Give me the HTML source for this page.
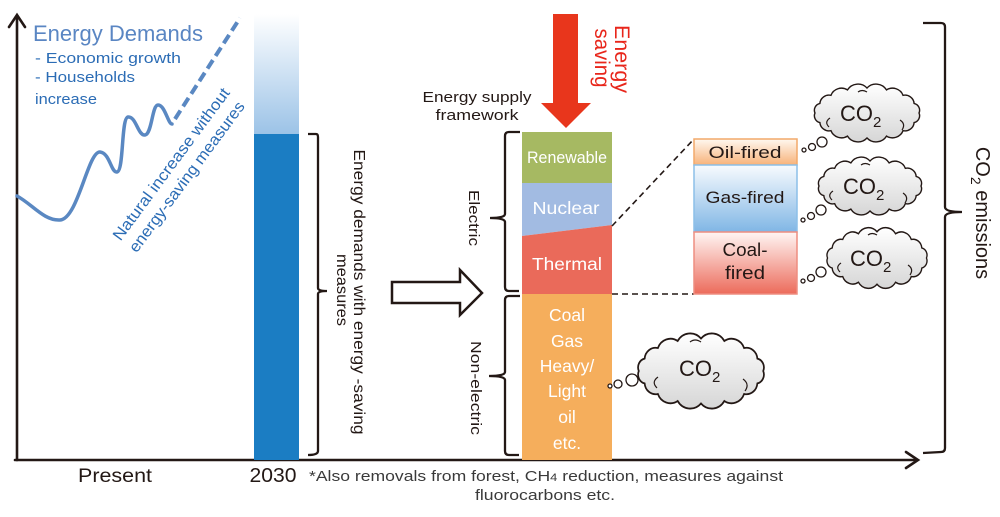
<!DOCTYPE html>
<html><head><meta charset="utf-8">
<style>
html,body{margin:0;padding:0;background:#fff;}
svg{display:block;}
text{font-family:"Liberation Sans",sans-serif;}
</style></head>
<body>
<svg width="1000" height="517" viewBox="0 0 1000 517" xmlns="http://www.w3.org/2000/svg">
<defs>
<linearGradient id="barL" x1="0" y1="0" x2="0" y2="1">
<stop offset="0" stop-color="#ffffff"/><stop offset="1" stop-color="#9cc3e7"/>
</linearGradient>
<linearGradient id="gOil" x1="0" y1="0" x2="0" y2="1">
<stop offset="0" stop-color="#fff8f0"/><stop offset="1" stop-color="#f7b27a"/>
</linearGradient>
<linearGradient id="gGas" x1="0" y1="0" x2="0" y2="1">
<stop offset="0" stop-color="#f8fbfe"/><stop offset="1" stop-color="#80b6e5"/>
</linearGradient>
<linearGradient id="gCoal" x1="0" y1="0" x2="0" y2="1">
<stop offset="0" stop-color="#fff6f4"/><stop offset="1" stop-color="#ec6b5b"/>
</linearGradient>
<linearGradient id="gCloud" x1="0" y1="0" x2="0" y2="1">
<stop offset="0" stop-color="#ffffff"/><stop offset="1" stop-color="#d6d6d6"/>
</linearGradient>
<path id="cloud" d="M51,0 A7,7 0 0 1 46.19,9.57 A9,9 0 0 1 35.36,17.68 A11,11 0 0 1 19.13,23.10 A12,12 0 0 1 0,25 A12,12 0 0 1 -19.13,23.10 A11,11 0 0 1 -35.36,17.68 A9,9 0 0 1 -46.19,9.57 A7,7 0 0 1 -51,0 A7,7 0 0 1 -46.19,-9.57 A9,9 0 0 1 -35.36,-17.68 A11,11 0 0 1 -19.13,-23.10 A12,12 0 0 1 0,-25 A12,12 0 0 1 19.13,-23.10 A11,11 0 0 1 35.36,-17.68 A9,9 0 0 1 46.19,-9.57 A7,7 0 0 1 51,0 Z"/>
</defs>

<!-- Axes -->
<g stroke="#231815" stroke-width="2.6" fill="none" stroke-linecap="round">
<line x1="17" y1="460" x2="17" y2="16"/>
<polyline points="9,27 17,15 25,27"/>
<line x1="15" y1="460" x2="917" y2="460"/>
<polyline points="906,452 918,460 906,468"/>
</g>

<!-- Left chart texts -->
<text x="33" y="41" font-size="22" fill="#5a86c3" textLength="170" lengthAdjust="spacingAndGlyphs">Energy Demands</text>
<text x="35" y="63" font-size="15" fill="#2b6cb5" textLength="146" lengthAdjust="spacingAndGlyphs">- Economic growth</text>
<text x="35" y="82" font-size="15" fill="#2b6cb5" textLength="100" lengthAdjust="spacingAndGlyphs">- Households</text>
<text x="35" y="104" font-size="15" fill="#2b6cb5" textLength="62" lengthAdjust="spacingAndGlyphs">increase</text>

<!-- Wave curve -->
<path d="M17,196 C32,204 44,221 60,220 C78,219 88,151 100,152 C110,153 111,173 117,172 C124,171 121,118 128,117 C136,116 138,136 145,135 C152,134 152,105 158,105 C165,105 168,124 172,124" fill="none" stroke="#5a88c2" stroke-width="3.5" stroke-linecap="round"/>
<line x1="175" y1="119" x2="240" y2="18" stroke="#5a88c2" stroke-width="4" stroke-dasharray="10,5"/>

<g transform="translate(175.5,167.3) rotate(-53.5)">
<text x="0" y="0" font-size="16" fill="#2b6cb5" text-anchor="middle" textLength="185" lengthAdjust="spacingAndGlyphs">Natural increase without</text>
</g>
<g transform="translate(191,180) rotate(-53.5)">
<text x="0" y="0" font-size="16" fill="#2b6cb5" text-anchor="middle" textLength="183" lengthAdjust="spacingAndGlyphs">energy-saving measures</text>
</g>

<!-- Bar -->
<rect x="254" y="14" width="45" height="120" fill="url(#barL)"/>
<rect x="254" y="134" width="45" height="326" fill="#1b7dc3"/>

<!-- Bar bracket -->
<path d="M308,134 L316,134 Q318,134 318,137 L318,288 Q318,291 327,291 Q318,291 318,294 L318,451 Q318,455 308,455" fill="none" stroke="#231815" stroke-width="2.3"/>

<g transform="translate(354,292) rotate(90)">
<text x="0" y="0" font-size="16" fill="#231815" text-anchor="middle" textLength="285" lengthAdjust="spacingAndGlyphs">Energy demands with energy -saving</text>
</g>
<g transform="translate(337,290) rotate(90)">
<text x="0" y="0" font-size="16" fill="#231815" text-anchor="middle" textLength="72" lengthAdjust="spacingAndGlyphs">measures</text>
</g>

<!-- Hollow arrow -->
<polygon points="392,282 460,282 460,270 482,293 460,315 460,303 392,303" fill="#fff" stroke="#231815" stroke-width="2.5" stroke-linejoin="miter"/>

<!-- Energy supply framework -->
<text x="477" y="102" font-size="15" fill="#231815" text-anchor="middle" textLength="109" lengthAdjust="spacingAndGlyphs">Energy supply</text>
<text x="477" y="120" font-size="15" fill="#231815" text-anchor="middle" textLength="83" lengthAdjust="spacingAndGlyphs">framework</text>

<!-- Red arrow -->
<polygon points="553,14 578,14 578,103 591,103 566,128 541,103 553,103" fill="#e8361c"/>
<g transform="translate(615,59) rotate(90)">
<text x="0" y="0" font-size="21" fill="#e8261b" text-anchor="middle" textLength="68" lengthAdjust="spacingAndGlyphs">Energy</text>
</g>
<g transform="translate(595,58) rotate(90)">
<text x="0" y="0" font-size="21" fill="#e8261b" text-anchor="middle" textLength="59" lengthAdjust="spacingAndGlyphs">saving</text>
</g>

<!-- Stack -->
<rect x="522" y="132" width="90" height="51" fill="#a6b962"/>
<polygon points="522,183 612,183 612,225 522,236" fill="#a2bbe2"/>
<polygon points="522,236 612,225 612,294 522,294" fill="#ea6a5a"/>
<rect x="522" y="294" width="90" height="166" fill="#f5ae5c"/>

<g font-size="16.5" fill="#ffffff" text-anchor="middle">
<text x="567" y="163" textLength="80" lengthAdjust="spacingAndGlyphs">Renewable</text>
<text x="566" y="214" font-size="17.5" textLength="67" lengthAdjust="spacingAndGlyphs">Nuclear</text>
<text x="567" y="270" font-size="17.5" textLength="70" lengthAdjust="spacingAndGlyphs">Thermal</text>
<text x="567" y="321" font-size="17.5">Coal</text>
<text x="567" y="347" font-size="17.5">Gas</text>
<text x="567" y="372" font-size="17.5">Heavy/</text>
<text x="567" y="397" font-size="17.5">Light</text>
<text x="567" y="423" font-size="17.5">oil</text>
<text x="567" y="449" font-size="17.5">etc.</text>
</g>

<!-- Electric / Non-electric braces -->
<g fill="none" stroke="#231815" stroke-width="2.3">
<path d="M520,132 L509,132 Q505,132 505,136 L505,214 Q505,218 490,218 Q505,218 505,222 L505,287 Q505,291 509,291 L519,291"/>
<path d="M520,296 L509,296 Q505,296 505,300 L505,372 Q505,376 489,376 Q505,376 505,380 L505,451 Q505,455 509,455 L519,455"/>
</g>
<g transform="translate(469,218) rotate(90)">
<text x="0" y="0" font-size="15" fill="#231815" text-anchor="middle" textLength="56" lengthAdjust="spacingAndGlyphs">Electric</text>
</g>
<g transform="translate(471,388) rotate(90)">
<text x="0" y="0" font-size="15" fill="#231815" text-anchor="middle" textLength="94" lengthAdjust="spacingAndGlyphs">Non-electric</text>
</g>

<!-- Dashed connectors -->
<g stroke="#231815" stroke-width="1.6" stroke-dasharray="6,4" fill="none">
<line x1="612" y1="226" x2="694" y2="139"/>
<line x1="612" y1="294" x2="694" y2="294"/>
</g>

<!-- Thermal breakdown boxes -->
<rect x="694" y="139" width="103" height="26" fill="url(#gOil)" stroke="#f2a96a" stroke-width="1.5"/>
<rect x="694" y="165" width="103" height="67" fill="url(#gGas)" stroke="#8cbfe8" stroke-width="1.5"/>
<rect x="694" y="232" width="103" height="62" fill="url(#gCoal)" stroke="#ee8d80" stroke-width="1.5"/>
<g font-size="17" fill="#231815" text-anchor="middle">
<text x="745" y="158" textLength="73" lengthAdjust="spacingAndGlyphs">Oil-fired</text>
<text x="745" y="203" textLength="79" lengthAdjust="spacingAndGlyphs">Gas-fired</text>
<text x="745" y="256" font-size="18" textLength="45" lengthAdjust="spacingAndGlyphs">Coal-</text>
<text x="745" y="279" font-size="18" textLength="40" lengthAdjust="spacingAndGlyphs">fired</text>
</g>

<!-- Clouds -->
<g fill="url(#gCloud)" stroke="#231815" stroke-width="1.4">
<use href="#cloud" transform="translate(867,113) scale(1.02,1)" vector-effect="non-scaling-stroke"/>
<use href="#cloud" transform="translate(870,186) scale(1,1)" vector-effect="non-scaling-stroke"/>
<use href="#cloud" transform="translate(877,258) scale(0.97,1.05)" vector-effect="non-scaling-stroke"/>
<use href="#cloud" transform="translate(701,371) scale(1.22,1.3)" vector-effect="non-scaling-stroke"/>
</g>
<!-- inner curl details -->
<g fill="none" stroke="#231815" stroke-width="1.2">
<path d="M830,118 q-6,4 -1,9"/><path d="M900,120 q6,4 2,10"/><path d="M858,92 q4,-3 9,0"/>
<path d="M833,191 q-6,4 -1,9"/><path d="M903,193 q6,4 2,10"/><path d="M861,165 q4,-3 9,0"/>
<path d="M841,263 q-6,4 -1,9"/><path d="M908,265 q6,4 2,10"/><path d="M868,235 q4,-3 9,0"/>
<path d="M658,377 q-7,5 -1,11"/><path d="M743,379 q7,5 2,12"/><path d="M690,342 q5,-4 11,0"/>
</g>
<g fill="#ffffff" stroke="#231815" stroke-width="1.3">
<circle cx="804" cy="150" r="2"/><circle cx="812" cy="147" r="3.5"/><circle cx="822" cy="142" r="5"/>
<circle cx="803" cy="220" r="2"/><circle cx="811" cy="216" r="3.5"/><circle cx="821" cy="210" r="5"/>
<circle cx="803" cy="281" r="2"/><circle cx="811" cy="278" r="3.5"/><circle cx="821" cy="272" r="5"/>
<circle cx="610" cy="386" r="2"/><circle cx="618" cy="384" r="4"/><circle cx="632" cy="380" r="6"/>
</g>
<g font-size="22" fill="#231815">
<text x="840" y="121">CO<tspan font-size="15" dy="6">2</tspan></text>
<text x="843" y="194">CO<tspan font-size="15" dy="6">2</tspan></text>
<text x="850" y="266">CO<tspan font-size="15" dy="6">2</tspan></text>
<text x="679" y="376">CO<tspan font-size="15" dy="6">2</tspan></text>
</g>

<!-- Big right brace -->
<path d="M923,23 L941,23 Q945,23 945,27 L945,207 Q945,212 962,212 Q945,212 945,217 L945,448 Q945,452 941,452 L923,453" fill="none" stroke="#231815" stroke-width="2.3"/>
<g transform="translate(976,213) rotate(90)">
<text x="0" y="0" font-size="20" fill="#231815" text-anchor="middle">CO<tspan font-size="14" dy="5">2</tspan><tspan dy="-5"> emissions</tspan></text>
</g>

<!-- Bottom labels -->
<text x="115" y="482" font-size="19" fill="#231815" text-anchor="middle" textLength="74" lengthAdjust="spacingAndGlyphs">Present</text>
<text x="273" y="482" font-size="20" fill="#231815" text-anchor="middle" textLength="47" lengthAdjust="spacingAndGlyphs">2030</text>
<text x="309" y="481" font-size="15" fill="#3a3a3a" textLength="474" lengthAdjust="spacingAndGlyphs">*Also removals from forest, CH<tspan font-size="11">4</tspan> reduction, measures against</text>
<text x="545" y="500" font-size="15" fill="#3a3a3a" text-anchor="middle" textLength="140" lengthAdjust="spacingAndGlyphs">fluorocarbons etc.</text>
</svg>
</body></html>
